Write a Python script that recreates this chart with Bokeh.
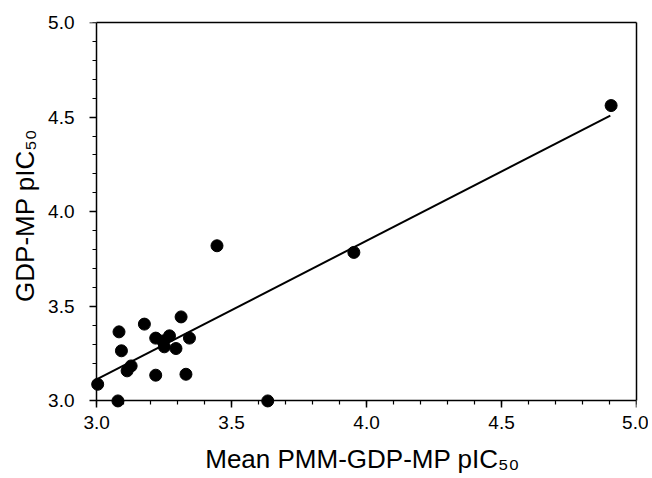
from bokeh.plotting import figure
from bokeh.models import (LinearAxis, SingleIntervalTicker, FixedTicker, PrintfTickFormatter,
                          CustomJSTickFormatter, Range1d, ColumnDataSource)
from bokeh.embed import file_html
from bokeh.resources import INLINE

# ---- data ----
mean_pmm_pic50 = [3.004, 3.079, 3.083, 3.092, 3.113, 3.128, 3.177, 3.219, 3.219, 3.245,
                  3.251, 3.270, 3.294, 3.313, 3.331, 3.344, 3.446, 3.634, 3.953, 4.906]
gdp_mp_pic50 = [3.088, 3.000, 3.365, 3.265, 3.159, 3.185, 3.406, 3.136, 3.332, 3.317,
                3.286, 3.344, 3.277, 3.444, 3.141, 3.332, 3.820, 3.000, 3.785, 4.561]
fit_x = [3.0, 4.903]
fit_y = [3.114, 4.508]
x_title = "Mean PMM-GDP-MP pIC\u2085\u2080"
y_title = "GDP-MP pIC\u2085\u2080"

FONT = "Liberation Sans"

p = figure(frame_width=548, frame_height=386,
           x_range=Range1d(2.97, 5.0), y_range=Range1d(2.96, 5.0),
           output_backend="svg", toolbar_location=None,
           x_axis_location=None, y_axis_location=None,
           min_border_left=88, min_border_right=12, min_border_top=22, min_border_bottom=70)
p.outline_line_color = None
p.xgrid.visible = False
p.ygrid.visible = False
p.background_fill_color = "white"
p.border_fill_color = "white"


def tick_axis():
    # axis line + outward ticks, drawn at x = 3.0 / y = 3.0
    ax = LinearAxis(ticker=SingleIntervalTicker(interval=0.5, num_minor_ticks=5),
                    formatter=CustomJSTickFormatter(code="return ''"))
    ax.fixed_location = 3.0
    ax.bounds = (3.0, 5.0)
    ax.axis_line_width = 1.5
    ax.axis_line_color = "black"
    ax.major_tick_line_width = 1.5
    ax.minor_tick_line_width = 1.2
    ax.major_tick_in = 0
    ax.major_tick_out = 7
    ax.minor_tick_in = 0
    ax.minor_tick_out = 4
    ax.major_label_standoff = 0
    ax.major_label_text_font_size = "0px"
    return ax


def label_axis(title, standoff, title_standoff):
    ax = LinearAxis(ticker=SingleIntervalTicker(interval=0.5, num_minor_ticks=0),
                    formatter=PrintfTickFormatter(format="%.1f"))
    ax.bounds = (3.0, 5.0)
    ax.axis_line_color = None
    ax.major_tick_line_color = None
    ax.minor_tick_line_color = None
    ax.major_tick_in = 0
    ax.major_tick_out = 0
    ax.minor_tick_in = 0
    ax.minor_tick_out = 0
    ax.major_label_standoff = standoff
    ax.major_label_text_font = FONT
    ax.major_label_text_font_size = "19px"
    ax.major_label_text_color = "black"
    ax.axis_label = title
    ax.axis_label_text_font = FONT
    ax.axis_label_text_font_size = "26px"
    ax.axis_label_text_font_style = "normal"
    ax.axis_label_text_color = "black"
    ax.axis_label_standoff = title_standoff
    return ax


def frame_line_axis():
    ax = LinearAxis(ticker=FixedTicker(ticks=[]))
    ax.bounds = (3.0, 5.0)
    ax.axis_line_width = 1.5
    ax.axis_line_color = "black"
    ax.major_tick_out = 0
    ax.minor_tick_out = 0
    ax.major_tick_in = 0
    ax.minor_tick_in = 0
    ax.major_label_standoff = 0
    return ax


# inner: axis lines with ticks; outer: tick labels and titles
p.add_layout(tick_axis(), "below")
p.add_layout(label_axis(x_title, 7, 12), "below")
p.add_layout(tick_axis(), "left")
p.add_layout(label_axis(y_title, 14, 5), "left")

# frame lines on top and right
p.add_layout(frame_line_axis(), "above")
p.add_layout(frame_line_axis(), "right")

src = ColumnDataSource(dict(x=mean_pmm_pic50, y=gdp_mp_pic50))
p.line(fit_x, fit_y, line_color="black", line_width=2)
p.scatter("x", "y", source=src, size=12, fill_color="black", line_color="black")

open("out.html", "w").write(file_html(p, INLINE))
